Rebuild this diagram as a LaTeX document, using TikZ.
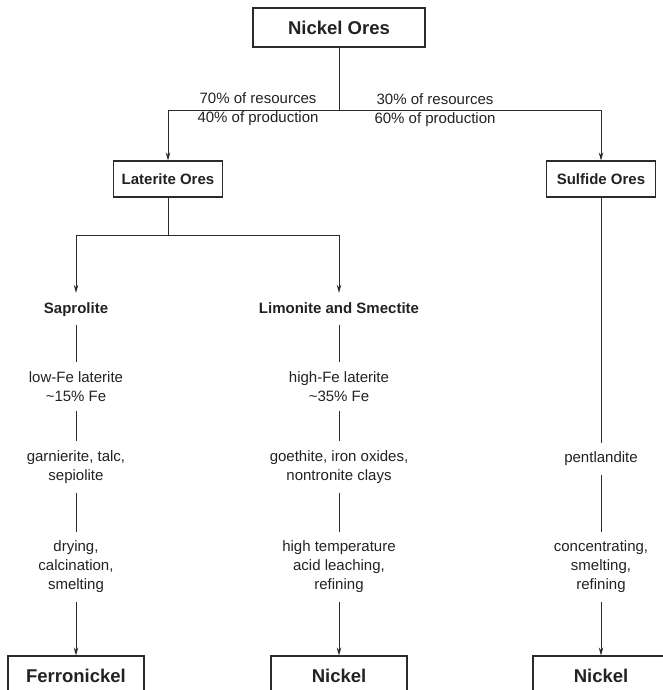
\documentclass[tikz,border=0pt]{standalone}
\usepackage{fontspec}
\setmainfont{Liberation Sans}
\usepackage{xcolor}
\definecolor{linecolor}{HTML}{2b2b2b}
\definecolor{textcolor}{HTML}{222222}
\usetikzlibrary{positioning,arrows.meta}
\tikzset{
    orebox/.style={
        rectangle,
        draw=linecolor,
        fill=white,
        text=textcolor,
        minimum height=39pt,
        minimum width=172pt,
        align=center,
        line width=1.1pt,
        font=\fontsize{18.5}{22}\selectfont\bfseries,
    },
    subbox/.style={
        rectangle,
        draw=linecolor,
        fill=white,
        text=textcolor,
        minimum height=36pt,
        minimum width=109pt,
        align=center,
        line width=1.1pt,
        font=\fontsize{15}{19}\selectfont\bfseries,
    },
    productbox/.style={
        orebox,
        minimum height=40pt,
        minimum width=136pt,
    },
    label/.style={
        text=textcolor,
        align=center,
        inner xsep=2pt,
        inner ysep=9pt,
        font=\fontsize{15}{19}\selectfont,
    },
    headlabel/.style={
        label,
        text height=11pt,
        text depth=3pt,
        font=\fontsize{15}{19}\selectfont\bfseries,
    },
    link/.style={
        line width=0.8pt,
        linecolor,
    },
    flow/.style={
        ->,
        >={Stealth[length=8pt,width=4.5pt]},
        line width=0.8pt,
        linecolor,
    },
}
\begin{document}
\begin{tikzpicture}[x=1pt,y=1pt]
    \useasboundingbox (0,0) rectangle (663,-690);

    % Top level
    \node[orebox] (ores) at (339,-27.5) {Nickel Ores};
    \coordinate (split) at (339,-110);
    \node[label] (latshare) at (258,-109) {70\% of resources\\40\% of production};
    \node[label] (sulshare) at (435,-110) {30\% of resources\\60\% of production};

    % Ore types
    \node[subbox] (laterite) at (168,-179) {Laterite Ores};
    \node[subbox] (sulfide) at (601,-179) {Sulfide Ores};
    \coordinate (latsplit) at (168,-235);

    % Saprolite column
    \node[headlabel] (saprolite) at (76,-309) {Saprolite};
    \node[label] (lowfe) at (76,-386.5) {low-Fe laterite\\\char`~15\% Fe};
    \node[label] (garnierite) at (76,-467) {garnierite, talc,\\sepiolite};
    \node[label] (drying) at (76,-567) {drying,\\calcination,\\smelting};
    \node[productbox] (ferro) at (76,-676) {Ferronickel};

    % Limonite column
    \node[headlabel] (limonite) at (339,-309) {Limonite and Smectite};
    \node[label] (highfe) at (339,-386.5) {high-Fe laterite\\\char`~35\% Fe};
    \node[label] (goethite) at (339,-467) {goethite, iron oxides,\\nontronite clays};
    \node[label] (leaching) at (339,-567) {high temperature\\acid leaching,\\refining};
    \node[productbox] (nickelA) at (339,-676) {Nickel};

    % Sulfide column
    \node[label] (pentlandite) at (601,-459) {pentlandite};
    \node[label] (smelting) at (601,-567) {concentrating,\\smelting,\\refining};
    \node[productbox] (nickelB) at (601,-676) {Nickel};

    % Main split
    \draw[link] (ores.south) -- (split);
    \draw[flow] (split) -| (laterite.north);
    \draw[flow] (split) -| (sulfide.north);

    % Laterite split
    \draw[link] (laterite.south) -- (latsplit);
    \draw[flow] (latsplit) -| (saprolite.north);
    \draw[flow] (latsplit) -| (limonite.north);

    % Chains
    \draw[link] (saprolite) -- (lowfe);
    \draw[link] (lowfe) -- (garnierite);
    \draw[link] (garnierite) -- (drying);
    \draw[flow] (drying) -- (ferro);

    \draw[link] (limonite) -- (highfe);
    \draw[link] (highfe) -- (goethite);
    \draw[link] (goethite) -- (leaching);
    \draw[flow] (leaching) -- (nickelA);

    \draw[link] (sulfide) -- (pentlandite);
    \draw[link] (pentlandite) -- (smelting);
    \draw[flow] (smelting) -- (nickelB);

\end{tikzpicture}
\end{document}
